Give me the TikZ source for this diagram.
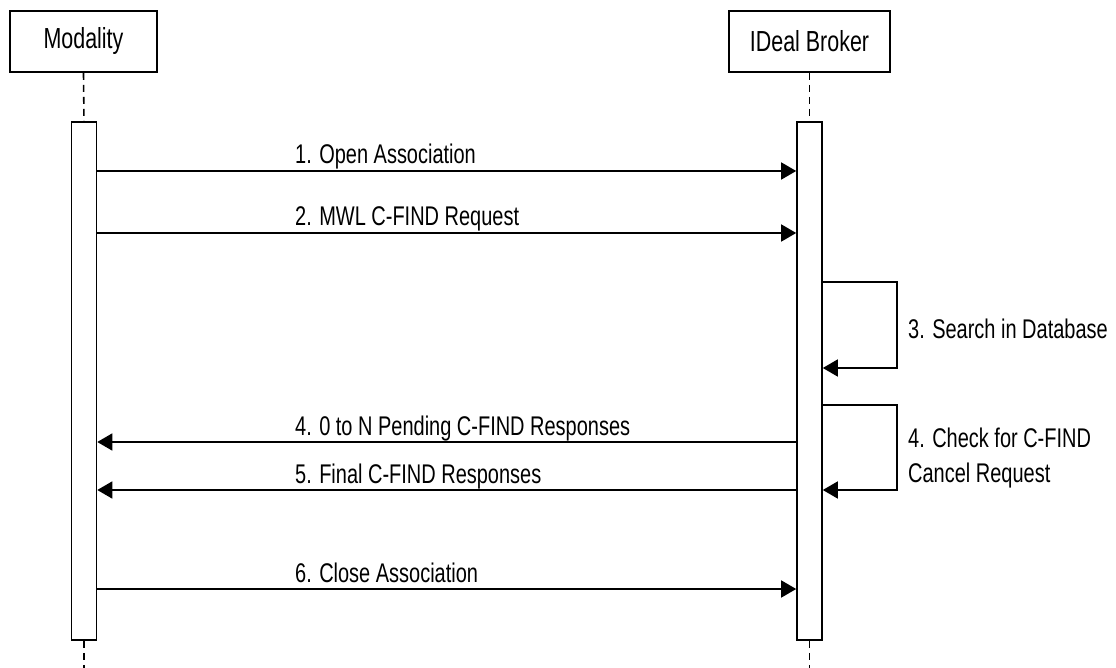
\documentclass[tikz,border=0pt]{standalone}
\usepackage{fontspec}
\setmainfont{Liberation Sans}[FakeStretch=0.74]
\usetikzlibrary{arrows.meta}
\begin{document}
\begin{tikzpicture}[x=1pt,y=-1pt,
  actor/.style={draw, line width=1.6pt, minimum height=61pt, inner sep=0pt, font=\fontsize{29}{32}\selectfont},
  act/.style={draw, fill=white, line width=1.6pt, minimum width=25pt, minimum height=518pt, inner sep=0pt},
  life/.style={line width=1.6pt, dash pattern=on 7pt off 5pt},
  msg/.style={line width=1.6pt, -{Triangle[length=15pt,width=17pt]}},
  lbl/.style={font=\fontsize{27}{30}\selectfont, anchor=base west, inner sep=0pt}]
\useasboundingbox (0,0) rectangle (1116,668);
% participants
\node[actor, minimum width=147pt] (mod) at (83.5,41.5) {Modality};
\node[actor, minimum width=161pt] (brk) at (809.5,41.5) {IDeal Broker};
% activation bars
\node[act] (actL) at (84,381) {};
\node[act] (actR) at (809.5,381) {};
% lifelines
\coordinate (endL) at (84,668);
\coordinate (endR) at (809.5,668);
\draw[life] (mod.south) -- (actL.north);
\draw[life] (brk.south) -- (actR.north);
\draw[life] (actL.south) -- (endL);
\draw[life] (actR.south) -- (endR);
% message levels
\coordinate (y1) at (0,171);
\coordinate (y2) at (0,233);
\coordinate (y4) at (0,442);
\coordinate (y5) at (0,490);
\coordinate (y6) at (0,589);
\draw[msg] (actL.east |- y1) -- (actR.west |- y1);
\draw[msg] (actL.east |- y2) -- (actR.west |- y2);
\draw[msg] (actR.west |- y4) -- (actL.east |- y4);
\draw[msg] (actR.west |- y5) -- (actL.east |- y5);
\draw[msg] (actL.east |- y6) -- (actR.west |- y6);
\node[lbl] (l1) at (295,164) {1. Open Association};
\node[lbl] (l2) at (295,226) {2. MWL C-FIND Request};
\node[lbl] (l4) at (295,435) {4. 0 to N Pending C-FIND Responses};
\node[lbl] (l5) at (295,483) {5. Final C-FIND Responses};
\node[lbl] (l6) at (295,582) {6. Close Association};
% self messages
\coordinate (s3a) at (0,282);
\coordinate (s3b) at (0,368);
\coordinate (s4a) at (0,405);
\coordinate (s4b) at (0,490);
\draw[msg] (actR.east |- s3a) -- ++(74,0) |- (actR.east |- s3b);
\draw[msg] (actR.east |- s4a) -- ++(74,0) |- (actR.east |- s4b);
\node[lbl] (l3) at (908,338) {3. Search in Database};
\node[lbl] (l4a) at (908,447) {4. Check for C-FIND};
\node[lbl] (l4b) at (908,482) {Cancel Request};
\end{tikzpicture}
\end{document}
